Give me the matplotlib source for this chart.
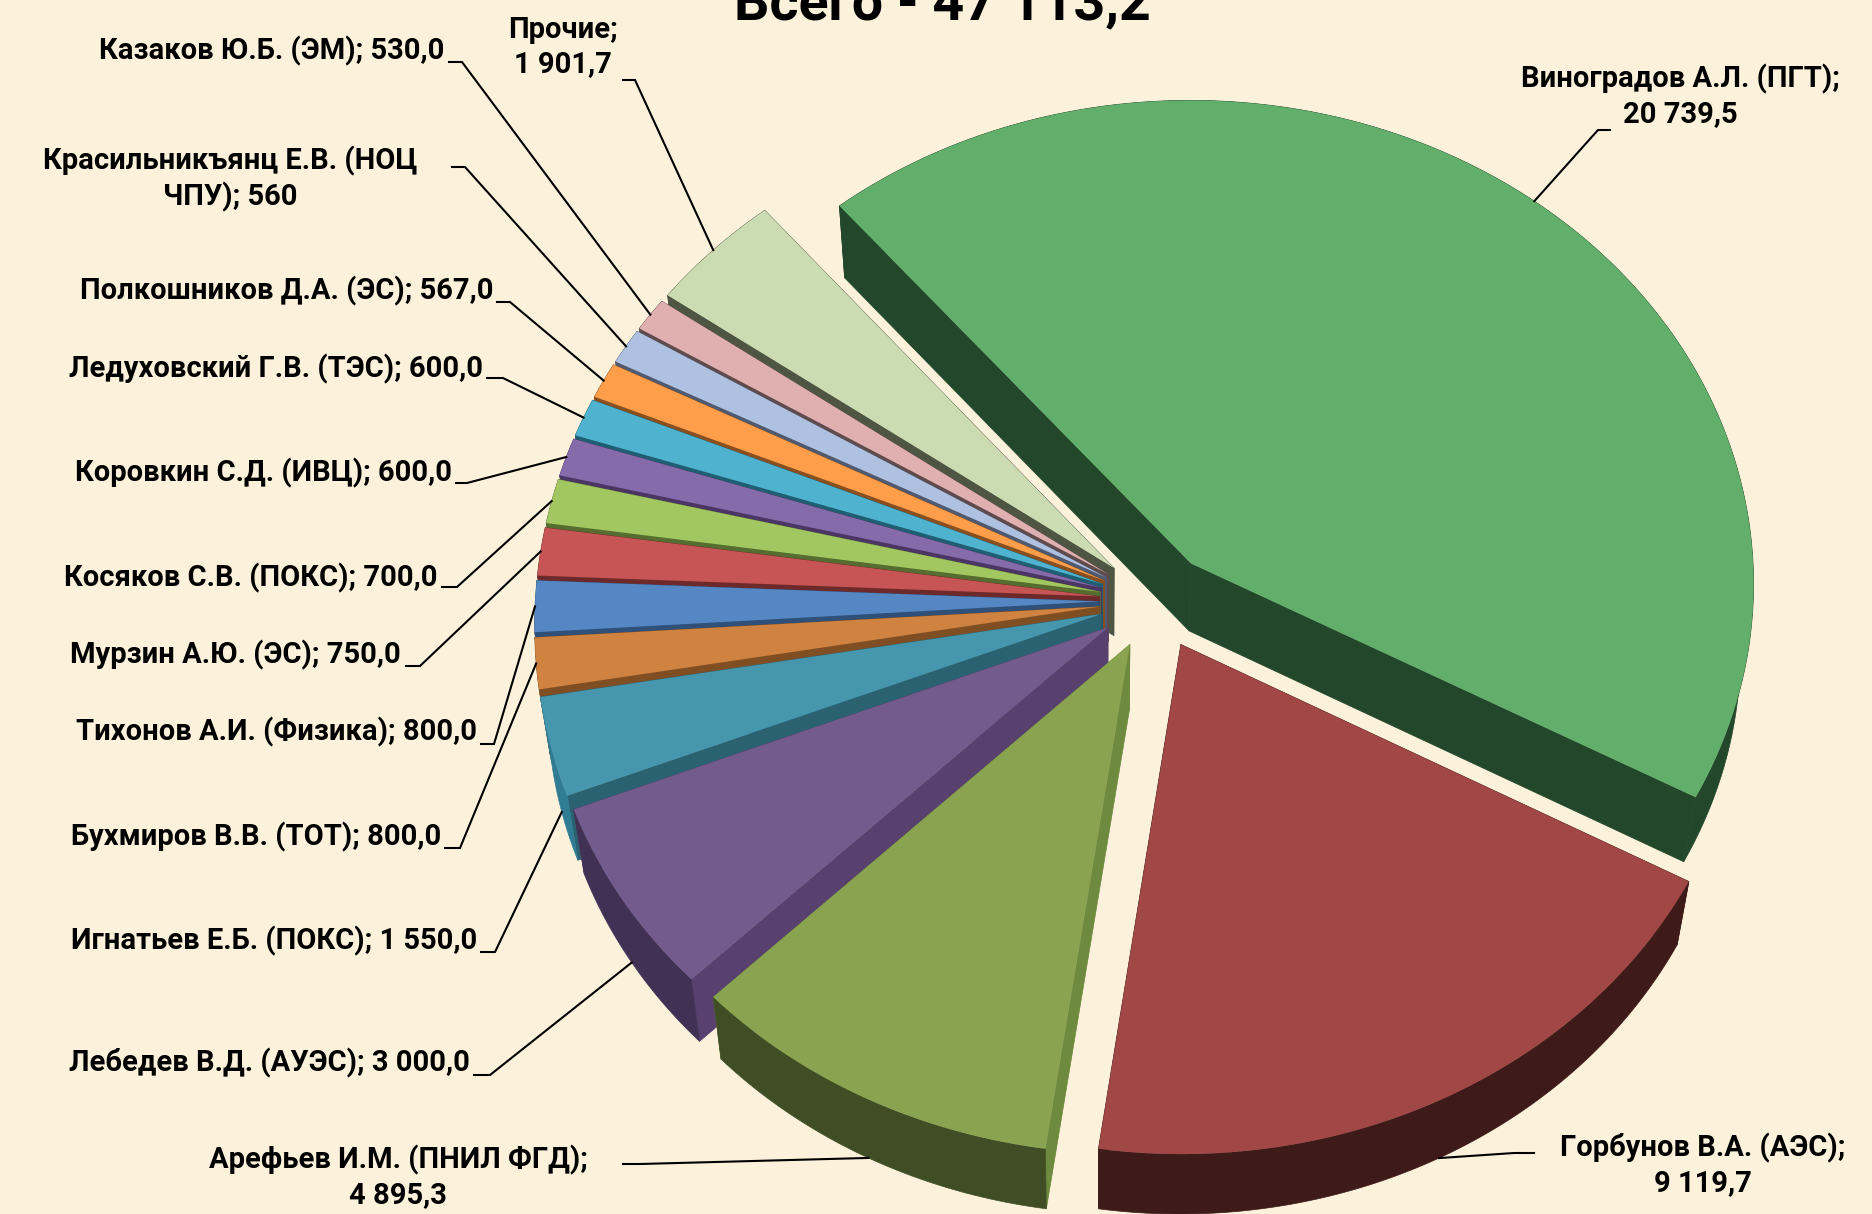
import numpy as np
import matplotlib
matplotlib.use('Agg')
import matplotlib.pyplot as plt

plt.rcParams['font.family'] = ['Roboto', 'DejaVu Sans']

title = 'Всего - 47 113,2'

names = ['Виноградов А.Л. (ПГТ);\n20 739,5', 'Горбунов В.А. (АЭС);\n9 119,7',
         'Арефьев И.М. (ПНИЛ ФГД);\n4 895,3', 'Лебедев В.Д. (АУЭС); 3 000,0',
         'Игнатьев Е.Б. (ПОКС); 1 550,0', 'Бухмиров В.В. (ТОТ); 800,0',
         'Тихонов А.И. (Физика); 800,0', 'Мурзин А.Ю. (ЭС); 750,0',
         'Косяков С.В. (ПОКС); 700,0', 'Коровкин С.Д. (ИВЦ); 600,0',
         'Ледуховский Г.В. (ТЭС); 600,0', 'Полкошников Д.А. (ЭС); 567,0',
         'Красильникъянц Е.В. (НОЦ\nЧПУ); 560', 'Казаков Ю.Б. (ЭМ); 530,0',
         'Прочие;\n1 901,7']
values = [20739.5, 9119.7, 4895.3, 3000.0, 1550.0, 800.0, 800.0, 750.0,
          700.0, 600.0, 600.0, 567.0, 560.0, 530.0, 1901.7]

top_col = ['#62AF6C', '#A14745', '#8AA351', '#745B8E', '#4696AE', '#D08240', '#5687C5', '#C75555',
           '#A2C660', '#866BAA', '#4FB3CF', '#FF9E4A', '#AFC1E1', '#E0B0B0', '#CCDCB2']
cut_col = ['#22472A', '#3E1A18', '#6E8A3E', '#58416E', '#2A6272', '#7F4E22', '#2F5078', '#6E2A2B',
           '#566D30', '#4A3564', '#1F5F73', '#8A4F1E', '#4F5A70', '#5F4A4C', '#4E5542']
rim_col = ['#22472A', '#3E1A18', '#3F4E25', '#403155', '#2F7C94', '#7F4E22', '#2F5078', '#6E2A2B',
           '#566D30', '#4A3564', '#1F5F73', '#8A4F1E', '#4F5A70', '#5F4A4C', '#4E5542']

# text position (x, y, ha) and leader elbow: text end -> elbow -> slice
text_pos = [(1680, 96, 'center'), (1703, 1165, 'center'), (398, 1177, 'center'), (470, 1063, 'right'),
            (477, 941, 'right'), (441, 837, 'right'), (477, 732, 'right'), (401, 655, 'right'),
            (438, 578, 'right'), (452, 473, 'right'), (483, 369, 'right'), (493, 291, 'right'),
            (230, 179, 'center'), (444, 51, 'right'), (563, 47, 'center')]
elbow_a = [(1610, 130), (1534, 1153), (623, 1164), (474, 1075), (481, 952), (445, 848), (481, 744),
           (406, 666), (442, 587), (456, 483), (487, 378), (497, 302), (452, 167), (449, 62), (623, 80)]
elbow_b = [(1598, 130), (1514, 1153), (640, 1164), (490, 1075), (495, 952), (460, 848), (494, 744),
           (420, 666), (457, 587), (467, 483), (503, 378), (510, 302), (465, 167), (462, 62), (635, 80)]
# these leaders stop at the lower edge of the rim, the rest on the top face
on_bottom = [False, True, True, True, True] + [False] * 10

explode = 0.1
# disc -> picture projection, picked to fit the reference
H = [462.17, -326.31, 1155.43, -296.51, -352.30, 600.98, 0.02631, 0.0314]


def proj(u, v):
    w = H[6] * u + H[7] * v + 1
    return (H[0] * u + H[1] * v + H[2]) / w, (H[3] * u + H[4] * v + H[5]) / w


def lower(x, y):
    # same point on the bottom of the pie
    return x - 0.02 * (x - 1100), y + 72 - 0.0127 * (y - 205)


def top_point(th, r, mid):
    t = np.radians(th)
    m = np.radians(mid)
    return proj(r * np.sin(t) + explode * np.sin(m), r * np.cos(t) + explode * np.cos(m))


fig = plt.figure(figsize=(18.72, 12.14), dpi=100, facecolor='#FCF2DC')
ax = fig.add_axes([0, 0, 1, 1])
ax.set_xlim(0, 1872)
ax.set_ylim(1214, 0)
ax.axis('off')

edges = np.concatenate([[0], np.cumsum(values)]) / sum(values) * 360
mids = (edges[:-1] + edges[1:]) / 2

# back to front, smallest slices first from the top
for i in range(len(values) - 1, -1, -1):
    th = np.linspace(edges[i], edges[i + 1], 120)
    ax_x, ax_y = top_point(th, 1.0, mids[i])
    cx, cy = top_point(mids[i], 0.0, mids[i])
    bx, by = lower(ax_x, ax_y)
    bcx, bcy = lower(cx, cy)
    # cut faces
    ax.fill([cx, ax_x[0], bx[0], bcx], [cy, ax_y[0], by[0], bcy], color=cut_col[i], lw=0.5, zorder=2)
    ax.fill([cx, ax_x[-1], bx[-1], bcx], [cy, ax_y[-1], by[-1], bcy], color=cut_col[i], lw=0.5, zorder=2)
    # rim
    ax.fill(np.r_[ax_x, bx[::-1]], np.r_[ax_y, by[::-1]], color=rim_col[i], lw=0.5, zorder=2)
    # top
    ax.fill(np.r_[cx, ax_x], np.r_[cy, ax_y], color=top_col[i], lw=0, zorder=2)

for i in range(len(values)):
    x, y = top_point(mids[i], 1.0, mids[i])
    if on_bottom[i]:
        x, y = lower(x, y)
    ax.plot([elbow_a[i][0], elbow_b[i][0], x], [elbow_a[i][1], elbow_b[i][1], y],
            color='black', lw=1.5, zorder=3, solid_joinstyle='miter')
    ax.text(text_pos[i][0], text_pos[i][1], names[i], ha=text_pos[i][2], va='center', fontsize=21,
            fontweight='bold', color='black', linespacing=1.25, multialignment='center', zorder=4)

ax.text(942, 20, title, ha='center', va='baseline', fontsize=40, fontweight='bold', color='black')

fig.savefig('out.png', dpi=100, facecolor=fig.get_facecolor())
